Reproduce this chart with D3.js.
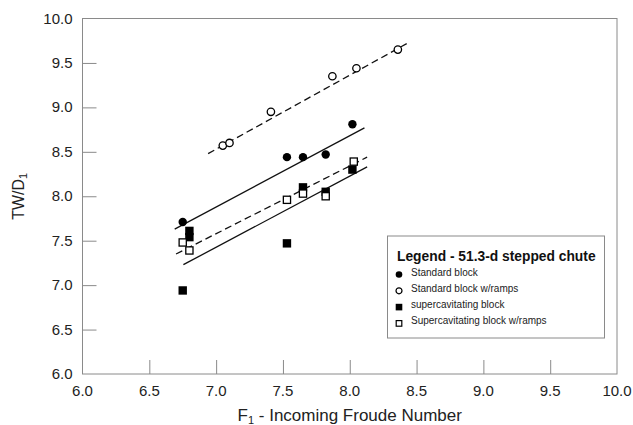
<!DOCTYPE html>
<html>
<head>
<meta charset="utf-8">
<script src="https://cdn.jsdelivr.net/npm/d3@7"></script>
<style>
  body { margin: 0; background: #fff; }
  svg { display: block; font-family: "Liberation Sans", Arial, sans-serif; }
</style>
</head>
<body>
<div id="chart"></div>
<script>
// Data
const stdBlock = [[6.75, 7.71], [7.53, 8.44], [7.65, 8.44], [7.82, 8.47], [8.02, 8.81]];
const stdRamps = [[7.05, 8.57], [7.10, 8.60], [7.41, 8.95], [7.87, 9.35], [8.05, 9.44], [8.36, 9.65]];
const supBlock = [[6.75, 6.94], [6.80, 7.61], [6.80, 7.54], [7.53, 7.47], [7.65, 8.10], [7.82, 8.05], [8.02, 8.30]];
const supRamps = [[6.75, 7.48], [6.80, 7.39], [7.53, 7.96], [7.65, 8.03], [7.82, 8.00], [8.03, 8.39]];

// fitted lines (end points)
const fitStdBlock = [[6.69, 7.63], [8.11, 8.77]];
const fitStdRamps = [[6.94, 8.48], [8.43, 9.72]];
const fitSupBlock = [[6.755, 7.23], [8.13, 8.33]];
const fitSupRamps = [[6.70, 7.35], [8.13, 8.44]];

const xTicks = d3.range(6, 10.01, 0.5);
const yTicks = d3.range(6, 10.01, 0.5);
const legendLabels = ["Standard block", "Standard block w/ramps", "supercavitating block", "Supercavitating block w/ramps"];

const width = 633, height = 425;
const margin = { top: 18.5, right: 16, bottom: 51, left: 82.5 };

const svg = d3.select("#chart").append("svg")
  .attr("width", width)
  .attr("height", height);

const x = d3.scaleLinear().domain([6, 10]).range([margin.left, width - margin.right]);
const y = d3.scaleLinear().domain([6, 10]).range([height - margin.bottom, margin.top]);

const axisColor = "#8a8a8a";
const textColor = "#222";

// frame
svg.append("rect")
  .attr("x", x(6)).attr("y", y(10))
  .attr("width", x(10) - x(6)).attr("height", y(6) - y(10))
  .attr("fill", "none").attr("stroke", axisColor).attr("stroke-width", 1);

// x axis: ticks pointing inward
const xAxis = svg.append("g").attr("transform", `translate(0,${y(6)})`);
xAxis.call(d3.axisTop(x).tickValues(d3.range(6.25, 10, 0.25)).tickSize(6).tickFormat(""));
xAxis.call(d3.axisTop(x).tickValues(xTicks.slice(1, -1)).tickSize(14).tickFormat(""));
xAxis.selectAll(".domain").remove();
xAxis.selectAll("line").attr("stroke", axisColor);
svg.append("g").selectAll("text").data(xTicks).join("text")
  .attr("x", d => x(d)).attr("y", y(6) + 22)
  .attr("text-anchor", "middle")
  .attr("font-size", 15).attr("fill", textColor)
  .text(d => d.toFixed(1));

// y axis
const yAxis = svg.append("g").attr("transform", `translate(${x(6)},0)`);
yAxis.call(d3.axisRight(y).tickValues(d3.range(6.25, 10, 0.25)).tickSize(7.5).tickFormat(""));
yAxis.call(d3.axisRight(y).tickValues(yTicks.slice(1, -1)).tickSize(14).tickFormat(""));
yAxis.selectAll(".domain").remove();
yAxis.selectAll("line").attr("stroke", axisColor);
svg.append("g").selectAll("text").data(yTicks).join("text")
  .attr("x", x(6) - 10).attr("y", d => y(d) + 5)
  .attr("text-anchor", "end")
  .attr("font-size", 15).attr("fill", textColor)
  .text(d => d.toFixed(1));

// axis titles
const xt = svg.append("text")
  .attr("x", (x(6) + x(10)) / 2).attr("y", 421)
  .attr("text-anchor", "middle").attr("font-size", 17).attr("fill", textColor);
xt.append("tspan").text("F");
xt.append("tspan").attr("font-size", 11).attr("dy", 3).text("1");
xt.append("tspan").attr("dy", -3).text(" - Incoming Froude Number");

const yt = svg.append("text")
  .attr("transform", `translate(24,${(y(6) + y(10)) / 2}) rotate(-90)`)
  .attr("text-anchor", "middle").attr("font-size", 16).attr("fill", textColor);
yt.append("tspan").text("TW/D");
yt.append("tspan").attr("font-size", 11).attr("dy", 3).text("1");

// fit lines
const line = d3.line().x(d => x(d[0])).y(d => y(d[1]));
const fits = [
  { pts: fitStdBlock, dash: null },
  { pts: fitStdRamps, dash: "7,4" },
  { pts: fitSupBlock, dash: null },
  { pts: fitSupRamps, dash: "7,4" }
];
svg.append("g").selectAll("path").data(fits).join("path")
  .attr("d", d => line(d.pts))
  .attr("fill", "none").attr("stroke", "#111").attr("stroke-width", 1.3)
  .attr("stroke-dasharray", d => d.dash);

// markers
const r = 4.2;
const s = 8.4;
const pts = svg.append("g");
pts.selectAll(".sb").data(stdBlock).join("circle").attr("class", "sb")
  .attr("cx", d => x(d[0])).attr("cy", d => y(d[1])).attr("r", r).attr("fill", "#000");
pts.selectAll(".sr").data(stdRamps).join("circle").attr("class", "sr")
  .attr("cx", d => x(d[0])).attr("cy", d => y(d[1])).attr("r", r - 0.5)
  .attr("fill", "#fff").attr("stroke", "#000").attr("stroke-width", 1.3);
pts.selectAll(".kb").data(supBlock).join("rect").attr("class", "kb")
  .attr("x", d => x(d[0]) - s / 2).attr("y", d => y(d[1]) - s / 2)
  .attr("width", s).attr("height", s).attr("fill", "#000");
pts.selectAll(".kr").data(supRamps).join("rect").attr("class", "kr")
  .attr("x", d => x(d[0]) - s / 2 + 0.6).attr("y", d => y(d[1]) - s / 2 + 0.6)
  .attr("width", s - 1.2).attr("height", s - 1.2)
  .attr("fill", "#fff").attr("stroke", "#000").attr("stroke-width", 1.3);

// legend
const lg = svg.append("g");
lg.append("rect")
  .attr("x", 387.5).attr("y", 236).attr("width", 217).attr("height", 102)
  .attr("fill", "#fff").attr("stroke", axisColor).attr("stroke-width", 1);
lg.append("text")
  .attr("x", 397).attr("y", 261)
  .attr("font-size", 13.8).attr("font-weight", "bold").attr("fill", "#111")
  .text("Legend - 51.3-d stepped chute");

const rows = lg.selectAll("g.row").data(legendLabels).join("g")
  .attr("class", "row")
  .attr("transform", (d, i) => `translate(399,${274.5 + i * 16.3})`);
rows.each(function(d, i) {
  const g = d3.select(this);
  if (i === 0) g.append("circle").attr("r", 3.3).attr("fill", "#000");
  if (i === 1) g.append("circle").attr("r", 3).attr("fill", "#fff").attr("stroke", "#000").attr("stroke-width", 1.2);
  if (i === 2) g.append("rect").attr("x", -3.3).attr("y", -3.3).attr("width", 6.6).attr("height", 6.6).attr("fill", "#000");
  if (i === 3) g.append("rect").attr("x", -2.8).attr("y", -2.8).attr("width", 5.6).attr("height", 5.6)
    .attr("fill", "#fff").attr("stroke", "#000").attr("stroke-width", 1.2);
});
rows.append("text")
  .attr("x", 12).attr("y", 0).attr("dy", "0.1em")
  .attr("font-size", 10).attr("fill", "#222")
  .text(d => d);
</script>
</body>
</html>
